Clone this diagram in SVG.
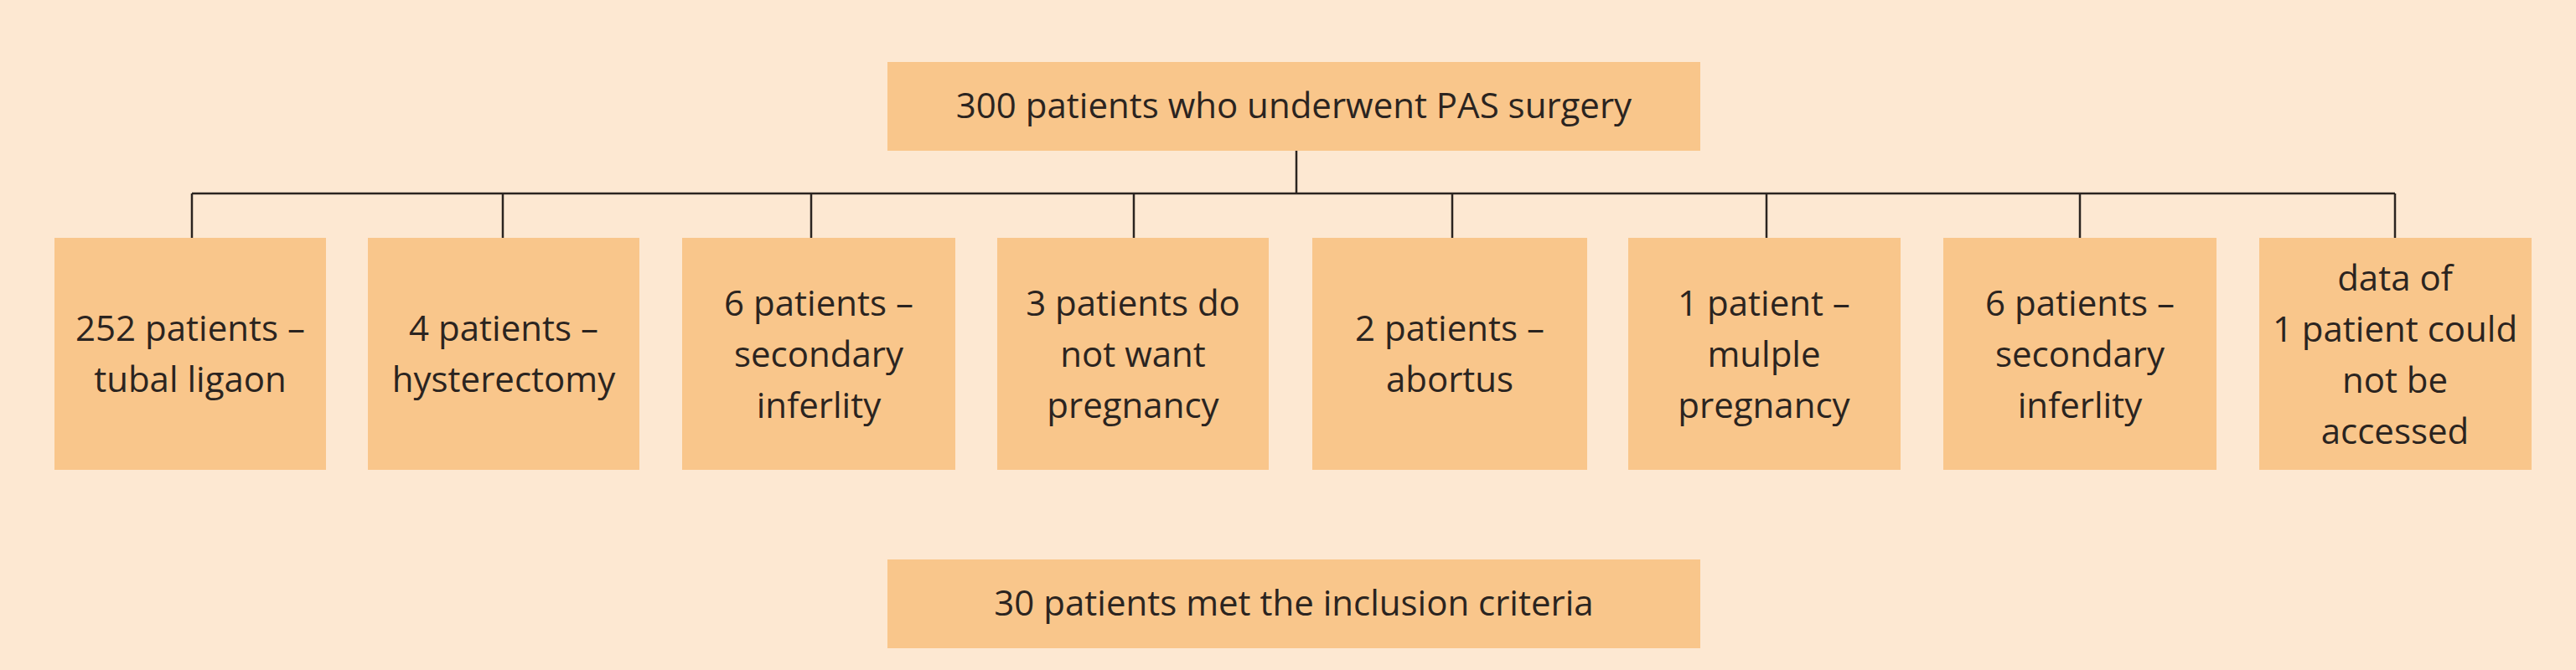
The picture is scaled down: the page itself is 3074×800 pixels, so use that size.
<svg xmlns="http://www.w3.org/2000/svg" width="3074" height="800" viewBox="0 0 3074 800">
<style>
.b{fill:#f9c68b}
.t{font-family:"Open Sans","Liberation Sans",sans-serif;font-size:42px;fill:#2b2420;text-anchor:middle}
.c{stroke:#2b2420;stroke-width:2.5;fill:none}
</style>
<rect width="3074" height="800" fill="#fde8d2"/>
<g id="connectors">
<path class="c" d="M1547 180V231M229 231H2858M229 231V284M600 231V284M968 231V284M1353 231V284M1733 231V284M2108 231V284M2482 231V284M2858 231V284"/>
</g>
<g id="top"><rect class="b" x="1059" y="74" width="970" height="106"/><text class="t" x="1544" y="141">300 patients who underwent PAS surgery</text></g>
<g id="n1"><rect class="b" x="65" y="284" width="324" height="277"/><text class="t" x="227" y="407">252 patients –</text><text class="t" x="227" y="468">tubal ligaon</text></g>
<g id="n2"><rect class="b" x="439" y="284" width="324" height="277"/><text class="t" x="601" y="407">4 patients –</text><text class="t" x="601" y="468">hysterectomy</text></g>
<g id="n3"><rect class="b" x="814" y="284" width="326" height="277"/><text class="t" x="977" y="377">6 patients –</text><text class="t" x="977" y="438">secondary</text><text class="t" x="977" y="499">inferlity</text></g>
<g id="n4"><rect class="b" x="1190" y="284" width="324" height="277"/><text class="t" x="1352" y="377">3 patients do</text><text class="t" x="1352" y="438">not want</text><text class="t" x="1352" y="499">pregnancy</text></g>
<g id="n5"><rect class="b" x="1566" y="284" width="328" height="277"/><text class="t" x="1730" y="407">2 patients –</text><text class="t" x="1730" y="468">abortus</text></g>
<g id="n6"><rect class="b" x="1943" y="284" width="325" height="277"/><text class="t" x="2105" y="377">1 patient –</text><text class="t" x="2105" y="438">mulple</text><text class="t" x="2105" y="499">pregnancy</text></g>
<g id="n7"><rect class="b" x="2319" y="284" width="326" height="277"/><text class="t" x="2482" y="377">6 patients –</text><text class="t" x="2482" y="438">secondary</text><text class="t" x="2482" y="499">inferlity</text></g>
<g id="n8"><rect class="b" x="2696" y="284" width="325" height="277"/><text class="t" x="2858" y="347">data of</text><text class="t" x="2858" y="408">1 patient could</text><text class="t" x="2858" y="469">not be</text><text class="t" x="2858" y="530">accessed</text></g>
<g id="bottom"><rect class="b" x="1059" y="668" width="970" height="106"/><text class="t" x="1544" y="735">30 patients met the inclusion criteria</text></g>
</svg>
